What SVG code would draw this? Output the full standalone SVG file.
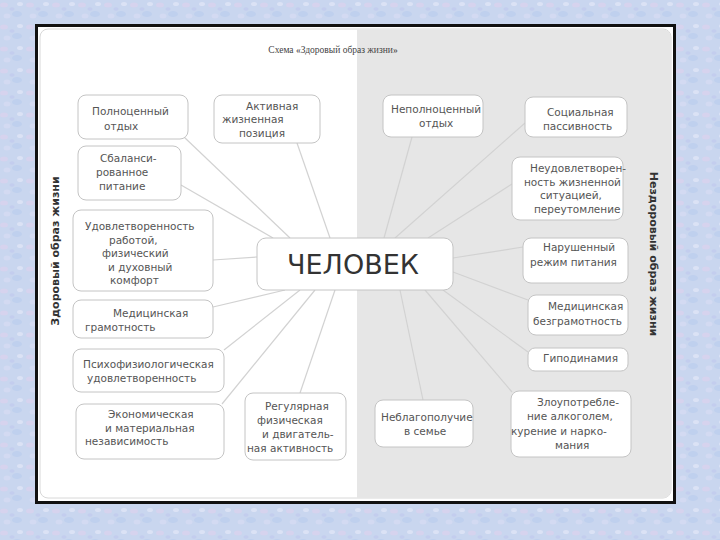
<svg xmlns="http://www.w3.org/2000/svg" width="720" height="540" viewBox="0 0 720 540">
<defs>
<pattern id="tex" width="26" height="22" patternUnits="userSpaceOnUse">
<rect width="26" height="22" fill="#c9d6ef"/>
<ellipse cx="4" cy="5" rx="4" ry="2.5" fill="#d6d3ee"/>
<ellipse cx="17" cy="14" rx="5" ry="3" fill="#bfd0ee"/>
<ellipse cx="20" cy="4" rx="3" ry="2" fill="#dbe2f5"/>
<ellipse cx="7" cy="16" rx="3.5" ry="2.5" fill="#d3daf2"/>
<ellipse cx="12" cy="9" rx="2.5" ry="1.8" fill="#c3cdee"/>
</pattern>
<style>
.box{fill:#ffffff;stroke:#c4c4c4;stroke-width:1}
.t{font-family:"DejaVu Sans",sans-serif;font-size:10.5px;fill:#555}
.c line{stroke:#d2d2d2;stroke-width:1.2}
.v{font-family:"DejaVu Sans",sans-serif;font-size:11px;font-weight:bold;fill:#333}
</style>
</defs>
<rect width="720" height="540" fill="url(#tex)"/>
<rect x="36.5" y="25.5" width="638" height="477" fill="#ffffff" stroke="#111" stroke-width="3"/>
<rect x="40" y="29" width="631" height="469" rx="8" fill="#ffffff" stroke="#d8d8d8"/>
<path d="M357 29.5 H663 a8 8 0 0 1 8 8 V490 a8 8 0 0 1 -8 8 H357 Z" fill="#e6e6e6"/>
<text x="333" y="53" text-anchor="middle" font-family="Liberation Serif,serif" font-size="9.5px" fill="#444">Схема «Здоровый образ жизни»</text>
<text class="v" transform="translate(59,251) rotate(-90)" text-anchor="middle">Здоровый образ жизни</text>
<text class="v" transform="translate(650,254) rotate(90)" text-anchor="middle">Нездоровый образ жизни</text>
<g class="c" id="connectors">
<line x1="184" y1="137" x2="290" y2="238"/>
<line x1="297" y1="143" x2="330" y2="238"/>
<line x1="181" y1="185" x2="273" y2="238"/>
<line x1="213" y1="260" x2="257" y2="257"/>
<line x1="213" y1="307" x2="285" y2="290"/>
<line x1="224" y1="350" x2="300" y2="290"/>
<line x1="222" y1="404" x2="315" y2="290"/>
<line x1="300" y1="393" x2="335" y2="290"/>
<line x1="412" y1="137" x2="384" y2="238"/>
<line x1="525" y1="123" x2="395" y2="238"/>
<line x1="512" y1="184" x2="428" y2="238"/>
<line x1="523" y1="247" x2="453" y2="258"/>
<line x1="528" y1="300" x2="453" y2="272"/>
<line x1="528" y1="352" x2="443" y2="290"/>
<line x1="512" y1="392" x2="425" y2="290"/>
<line x1="423" y1="400" x2="400" y2="290"/>
</g>
<g id="center">
<rect class="box" x="257" y="238" width="196" height="52" rx="9" stroke="#b8b8b8" stroke-width="1.5"/>
<text x="353" y="274" text-anchor="middle" font-family="DejaVu Sans,sans-serif" font-size="27px" fill="#333">ЧЕЛОВЕК</text>
</g>
<g id="n1"><rect class="box" x="78" y="95" width="110" height="44" rx="8"/>
<text class="t" x="92" y="115">Полноценный</text><text class="t" x="104" y="130">отдых</text></g>
<g id="n2"><rect class="box" x="214" y="95" width="106" height="48" rx="8"/>
<text class="t" x="246" y="110">Активная</text><text class="t" x="222" y="123">жизненная</text><text class="t" x="239" y="137">позиция</text></g>
<g id="n3"><rect class="box" x="78" y="146" width="103" height="54" rx="8"/>
<text class="t" x="100" y="162">Сбаланси-</text><text class="t" x="96" y="176">рованное</text><text class="t" x="99" y="190">питание</text></g>
<g id="n4"><rect class="box" x="73" y="210" width="140" height="81" rx="8"/>
<text class="t" x="85" y="230">Удовлетворенность</text><text class="t" x="109" y="244">работой,</text><text class="t" x="102" y="257">физический</text><text class="t" x="108" y="271">и духовный</text><text class="t" x="110" y="284">комфорт</text></g>
<g id="n5"><rect class="box" x="73" y="300" width="140" height="38" rx="8"/>
<text class="t" x="113" y="317">Медицинская</text><text class="t" x="85" y="331">грамотность</text></g>
<g id="n6"><rect class="box" x="73" y="349" width="151" height="43" rx="8"/>
<text class="t" x="83" y="368">Психофизиологическая</text><text class="t" x="87" y="382">удовлетворенность</text></g>
<g id="n7"><rect class="box" x="76" y="404" width="148" height="55" rx="8"/>
<text class="t" x="108" y="418">Экономическая</text><text class="t" x="105" y="432">и материальная</text><text class="t" x="85" y="445">независимость</text></g>
<g id="n8"><rect class="box" x="245" y="393" width="101" height="67" rx="8"/>
<text class="t" x="265" y="410">Регулярная</text><text class="t" x="257" y="424">физическая</text><text class="t" x="262" y="438">и двигатель-</text><text class="t" x="247" y="452">ная активность</text></g>
<g id="r1"><rect class="box" x="383" y="95" width="100" height="42" rx="8"/>
<text class="t" x="391" y="113">Неполноценный</text><text class="t" x="419" y="127">отдых</text></g>
<g id="r2"><rect class="box" x="525" y="97" width="102" height="40" rx="8"/>
<text class="t" x="547" y="116">Социальная</text><text class="t" x="543" y="130">пассивность</text></g>
<g id="r3"><rect class="box" x="512" y="157" width="111" height="63" rx="8"/>
<text class="t" x="530" y="172">Неудовлетворен-</text><text class="t" x="524" y="186">ность жизненной</text><text class="t" x="540" y="199">ситуацией,</text><text class="t" x="534" y="213">переутомление</text></g>
<g id="r4"><rect class="box" x="523" y="238" width="105" height="45" rx="8"/>
<text class="t" x="543" y="251">Нарушенный</text><text class="t" x="530" y="266">режим питания</text></g>
<g id="r5"><rect class="box" x="528" y="295" width="100" height="40" rx="8"/>
<text class="t" x="548" y="310">Медицинская</text><text class="t" x="533" y="325">безграмотность</text></g>
<g id="r6"><rect class="box" x="528" y="348" width="100" height="23" rx="7"/>
<text class="t" x="543" y="362">Гиподинамия</text></g>
<g id="r7"><rect class="box" x="511" y="391" width="120" height="66" rx="8"/>
<text class="t" x="537" y="406">Злоупотребле-</text><text class="t" x="527" y="420">ние алкоголем,</text><text class="t" x="511" y="435">курение и нарко-</text><text class="t" x="555" y="449">мания</text></g>
<g id="r8"><rect class="box" x="375" y="400" width="98" height="47" rx="8"/>
<text class="t" x="381" y="421">Неблагополучие</text><text class="t" x="404" y="435">в семье</text></g>
</svg>
